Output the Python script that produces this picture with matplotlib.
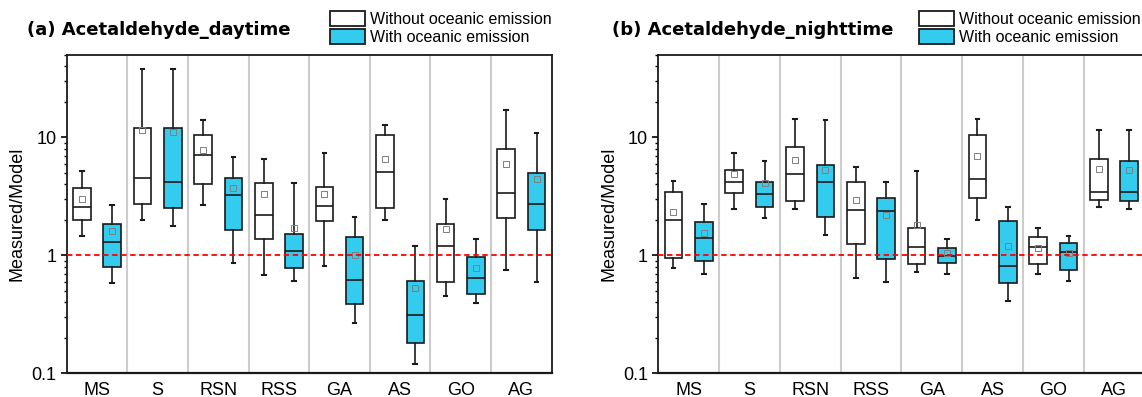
import matplotlib
matplotlib.use("Agg")
import matplotlib.pyplot as plt
from matplotlib.patches import Patch
from matplotlib.ticker import LogLocator, NullFormatter, FixedLocator, FixedFormatter

plt.rcParams["font.family"] = ["Liberation Sans", "DejaVu Sans"]

# ── data ──────────────────────────────────────────────────────────────────────
categories = ["MS", "S", "RSN", "RSS", "GA", "AS", "GO", "AG"]

# (a) daytime, without oceanic emission
day_wo_lo   = [1.46, 1.99, 2.68, 0.68, 0.81, 1.99, 0.45, 0.756]
day_wo_q1   = [1.98, 2.72, 4.01, 1.37, 1.94, 2.51, 0.60, 2.07]
day_wo_med  = [2.55, 4.53, 7.14, 2.19, 2.63, 5.09, 1.20, 3.38]
day_wo_q3   = [3.73, 12.0, 10.5, 4.08, 3.83, 10.5, 1.83, 7.97]
day_wo_hi   = [5.16, 37.8, 14.0, 6.56, 7.42, 12.8, 3.03, 17.0]
day_wo_mean = [3.03, 11.5, 7.87, 3.30, 3.32, 6.60, 1.67, 5.91]

# (a) daytime, with oceanic emission
day_w_lo   = [0.587, 1.76, 0.867, 0.603, 0.265, 0.120, 0.391, 0.60]
day_w_q1   = [0.797, 2.50, 1.63, 0.781, 0.385, 0.182, 0.474, 1.65]
day_w_med  = [1.29, 4.17, 3.23, 1.09, 0.619, 0.315, 0.647, 2.70]
day_w_q3   = [1.86, 12.1, 4.53, 1.53, 1.43, 0.607, 0.968, 5.00]
day_w_hi   = [2.66, 38.0, 6.82, 4.08, 2.12, 1.21, 1.37, 11.0]
day_w_mean = [1.60, 11.2, 3.73, 1.69, 1.00, 0.533, 0.776, 4.45]

# (b) nighttime, without oceanic emission
night_wo_lo   = [0.787, 2.45, 2.45, 0.639, 0.728, 2.00, 0.691, 2.56]
night_wo_q1   = [0.95, 3.41, 2.90, 1.26, 0.845, 3.07, 0.845, 2.97]
night_wo_med  = [1.99, 4.20, 4.87, 2.43, 1.17, 4.48, 1.18, 3.47]
night_wo_q3   = [3.43, 5.33, 8.28, 4.22, 1.71, 10.5, 1.44, 6.56]
night_wo_hi   = [4.28, 7.42, 14.4, 5.58, 5.16, 14.3, 1.69, 11.5]
night_wo_mean = [2.31, 4.93, 6.48, 2.92, 1.80, 6.91, 1.16, 5.43]

# (b) nighttime, with oceanic emission
night_w_lo   = [0.691, 2.08, 1.50, 0.595, 0.691, 0.409, 0.607, 2.48]
night_w_q1   = [0.89, 2.56, 2.12, 0.931, 0.856, 0.584, 0.752, 2.90]
night_w_med  = [1.39, 3.32, 4.20, 2.38, 0.987, 0.807, 1.06, 3.45]
night_w_q3   = [1.91, 4.20, 5.87, 3.05, 1.16, 1.95, 1.28, 6.31]
night_w_hi   = [2.73, 6.27, 14.0, 4.22, 1.38, 2.58, 1.45, 11.5]
night_w_mean = [1.55, 4.11, 5.26, 2.22, 1.04, 1.21, 1.04, 5.30]

titles = ["(a) Acetaldehyde_daytime", "(b) Acetaldehyde_nighttime"]
legend_labels = ["Without oceanic emission", "With oceanic emission"]

BLUE = "#33CCEE"
EDGE = "#1a1a1a"


def make_stats(lo, q1, med, q3, hi, mean):
    return [dict(whislo=a, q1=b, med=c, q3=d, whishi=e, mean=f, fliers=[])
            for a, b, c, d, e, f in zip(lo, q1, med, q3, hi, mean)]


panels = [
    (make_stats(day_wo_lo, day_wo_q1, day_wo_med, day_wo_q3, day_wo_hi, day_wo_mean),
     make_stats(day_w_lo, day_w_q1, day_w_med, day_w_q3, day_w_hi, day_w_mean)),
    (make_stats(night_wo_lo, night_wo_q1, night_wo_med, night_wo_q3, night_wo_hi, night_wo_mean),
     make_stats(night_w_lo, night_w_q1, night_w_med, night_w_q3, night_w_hi, night_w_mean)),
]

fig = plt.figure(figsize=(11.42, 3.97), dpi=100)
ax_boxes = [(66.7, 551.7), (658.3, 1144.5)]
title_x = [27, 612]
legend_x = [330, 919]

for k, (stats_wo, stats_w) in enumerate(panels):
    x0, x1 = ax_boxes[k]
    ax = fig.add_axes([x0 / 1142, (397 - 373.3) / 397,
                       (x1 - x0) / 1142, (373.3 - 55) / 397])
    n = len(categories)
    pos = list(range(n))

    for fill, stats, off in [("white", stats_wo, -0.25), (BLUE, stats_w, 0.25)]:
        ax.bxp(stats, positions=[p + off for p in pos], widths=0.29,
               capwidths=0.06, showmeans=True, showfliers=False,
               patch_artist=True, manage_ticks=False,
               boxprops=dict(facecolor=fill, edgecolor=EDGE, linewidth=1.2),
               medianprops=dict(color=EDGE, linewidth=1.2),
               whiskerprops=dict(color=EDGE, linewidth=1.2),
               capprops=dict(color=EDGE, linewidth=1.5),
               meanprops=dict(marker="s", markersize=4, markerfacecolor="none",
                              markeredgecolor="#7f7f7f", markeredgewidth=0.7),
               zorder=3)

    for i in range(n - 1):
        ax.axvline(i + 0.5, color="#cccccc", lw=1.5, zorder=1)
    ax.axhline(1, color="#ff0000", lw=1.3, ls=(0, (3, 2)), zorder=4)

    ax.set_yscale("log")
    ax.set_ylim(0.1, 50)
    ax.set_xlim(-0.5, n - 0.5)
    ax.yaxis.set_major_locator(FixedLocator([0.1, 1, 10]))
    ax.yaxis.set_major_formatter(FixedFormatter(["0.1", "1", "10"]))
    ax.yaxis.set_minor_locator(LogLocator(base=10, subs=range(2, 10)))
    ax.yaxis.set_minor_formatter(NullFormatter())
    ax.set_xticks(pos)
    ax.set_xticklabels(categories)
    ax.tick_params(axis="x", length=0, labelsize=13, pad=6)
    ax.tick_params(axis="y", which="major", length=4, width=1.2, labelsize=13, direction="out")
    ax.tick_params(axis="y", which="minor", length=2.2, width=1.0, direction="out")
    for sp in ax.spines.values():
        sp.set_linewidth(1.3)
        sp.set_color(EDGE)
    ax.spines["bottom"].set_linewidth(1.6)
    ax.set_ylabel("Measured/Model", fontsize=13, labelpad=4)

    fig.text(title_x[k] / 1142, 1 - 30 / 397, titles[k], fontsize=13,
             fontweight="bold", family="DejaVu Sans", va="center", ha="left")

    handles = [Patch(facecolor="white", edgecolor=EDGE, linewidth=1.3),
               Patch(facecolor=BLUE, edgecolor=EDGE, linewidth=1.3)]
    fig.legend(handles, legend_labels, loc="upper left",
               bbox_to_anchor=(legend_x[k] / 1142, 1 - 11 / 397),
               frameon=False, fontsize=11.5, borderpad=0, borderaxespad=0,
               handlelength=2.2, handleheight=1.05, handletextpad=0.3,
               labelspacing=0.15)

fig.savefig("out.png", dpi=100)
